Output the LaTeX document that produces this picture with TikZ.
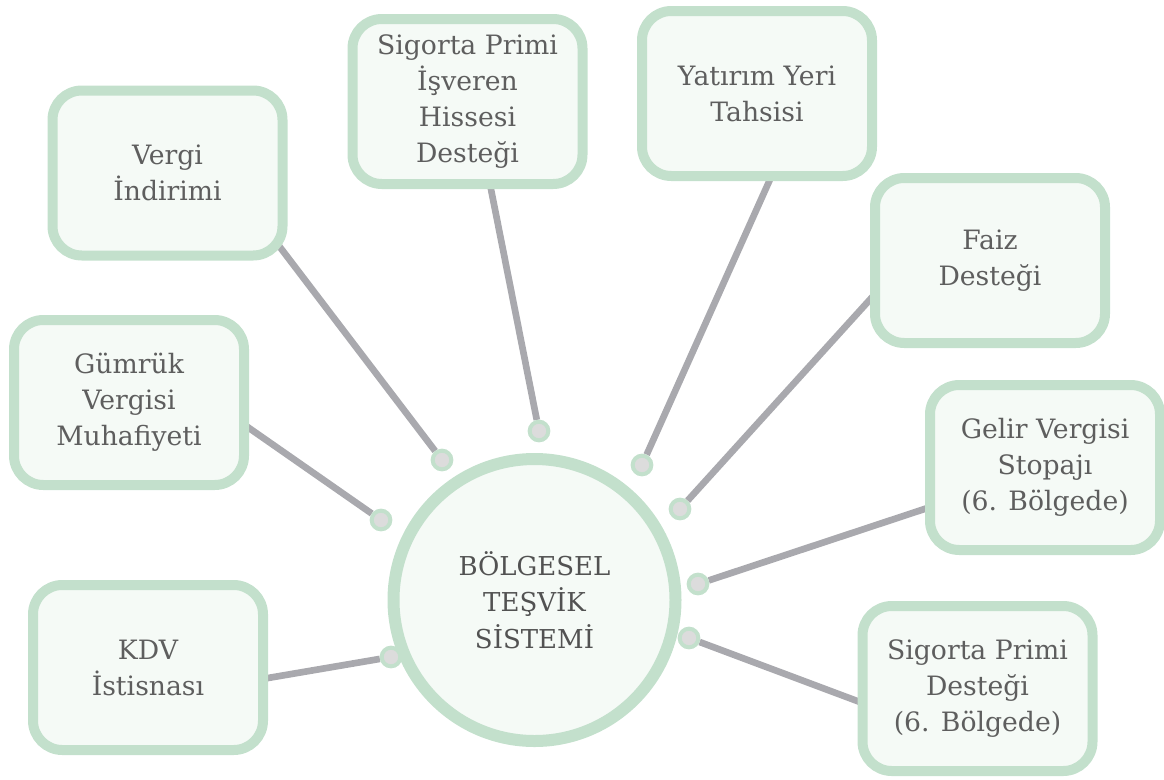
\documentclass[tikz,border=0pt]{standalone}
\usepackage{fontspec}
\setmainfont{DejaVu Serif}
\usetikzlibrary{backgrounds}

\definecolor{boxgreen}{HTML}{C3E0CC}
\definecolor{boxfill}{HTML}{F5FAF6}
\definecolor{linkgray}{HTML}{A9A9AE}
\definecolor{dotgray}{HTML}{DCDCDC}
\definecolor{textgray}{HTML}{5E5E5E}

\begin{document}
\begin{tikzpicture}[x=0.75pt,y=-0.75pt,
        box/.style={draw=boxgreen, fill=boxfill, line width=7.5pt, rounded corners=22pt,
            minimum width=172.5pt, minimum height=123.75pt, inner sep=0pt,
            align=center, text=textgray, font=\fontsize{20}{27}\selectfont},
        hub/.style={circle, draw=boxgreen, fill=boxfill, line width=9pt, minimum size=211.5pt,
            inner sep=0pt, align=center, text=black!68, font=\fontsize{19.5}{27.5}\selectfont},
        dot/.style={circle, draw=boxgreen, fill=dotgray, line width=3pt, minimum size=14pt, inner sep=0pt},
        link/.style={draw=linkgray, line width=5pt, shorten >=-15pt}]
        \useasboundingbox (0,0) rectangle (1164,779);

        % hub
        \node [hub] (sistem) at (534.5,600) {BÖLGESEL\\TEŞVİK\\SİSTEMİ};

        % boxes
        \node [box] (vergi) at (167.5,173) {Vergi\\İndirimi};
        \node [box] (isveren) at (467.5,101.5) {Sigorta Primi\\İşveren\\Hissesi\\Desteği};
        \node [box] (yatirim) at (757,93.5) {Yatırım Yeri\\Tahsisi};
        \node [box] (faiz) at (990,260.5) {Faiz\\Desteği};
        \node [box] (gumruk) at (129,402.5) {Gümrük\\Vergisi\\Muhafiyeti};
        \node [box] (gelir) at (1045,467.5) {Gelir Vergisi\\Stopajı\\(6. Bölgede)};
        \node [box] (kdv) at (148,667.5) {KDV\\İstisnası};
        \node [box] (destek) at (977.5,688.5) {Sigorta Primi\\Desteği\\(6. Bölgede)};

        % dots round the hub
        \node [dot] (dvergi) at (442,460) {};
        \node [dot] (disveren) at (539,431) {};
        \node [dot] (dyatirim) at (642,465) {};
        \node [dot] (dfaiz) at (680,509) {};
        \node [dot] (dgelir) at (698,584) {};
        \node [dot] (ddestek) at (689,638) {};
        \node [dot] (dkdv) at (391,657) {};
        \node [dot] (dgumruk) at (381,520) {};

        \begin{scope}[on background layer]
        \draw [link] (dvergi) -- (vergi.-35);
        \draw [link] (disveren) -- (isveren.-75);
        \draw [link] (dyatirim) -- (yatirim.-82);
        \draw [link] (dfaiz) -- (faiz.198);
        \draw [link] (dgelir) -- (gelir.199);
        \draw [link] (ddestek) -- (destek.186);
        \draw [link] (dkdv) -- (kdv.-5);
        \draw [link] (dgumruk) -- (gumruk.-12);
        \end{scope}
    \end{tikzpicture}
\end{document}
